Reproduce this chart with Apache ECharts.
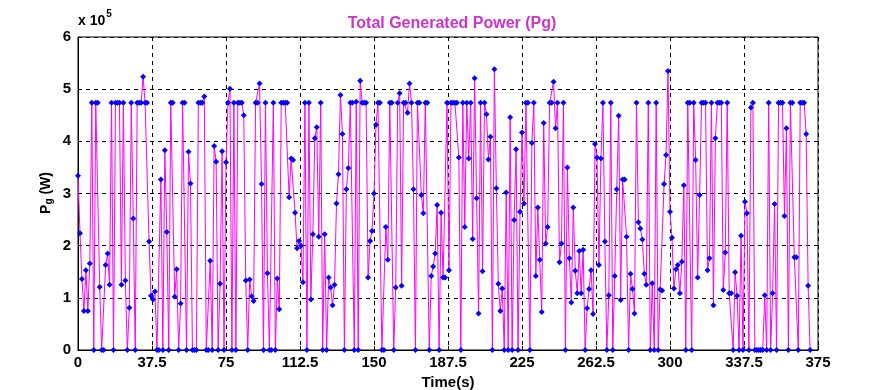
<!DOCTYPE html>
<html>
<head>
<meta charset="utf-8">
<script src="https://cdn.jsdelivr.net/npm/echarts@6/dist/echarts.min.js"></script>
<style>html,body{margin:0;padding:0;background:#fff}#c{width:896px;height:390px}</style>
</head>
<body>
<div id="c"></div>
<script>
// Time axis ticks (s)
const xTicks = [0, 37.5, 75, 112.5, 150, 187.5, 225, 262.5, 300, 337.5, 375];
// Pg values in units of 1e5 W, one per second starting at t = 0
const pgValues = [
3.34,2.24,1.36,0.75,1.53,0.75,1.66,4.74,0,4.74,
4.74,1.21,0,0,1.63,1.85,1.25,4.74,0,4.74,
4.74,4.74,1.25,4.74,1.33,0,0.81,4.74,2.52,0,
4.74,4.74,4.74,5.24,4.74,4.74,2.08,1.04,0.97,1.12,
0,0,3.27,0,3.83,2.26,0,4.74,4.74,1.02,
1.55,0,0.89,4.74,4.74,0,3.8,3.19,0,0,
0,4.74,4.74,4.74,4.86,0,0,1.71,0,3.91,
3.61,0,1.27,3.81,0,3.6,4.74,5.01,0,4.74,
0,4.74,4.74,4.74,4.5,1.33,0,1.35,1.03,0.94,
4.74,4.74,5.11,3.18,0,4.74,1.47,0,0,4.74,
0,1.37,0.78,4.74,4.74,4.74,4.74,2.93,3.67,3.64,
2.63,1.95,2.09,2.0,1.3,4.74,0,4.74,0.97,2.22,
4.06,4.27,2.17,4.74,0,2.22,0,1.39,1.2,0.86,
1.25,2.81,3.37,4.89,4.14,0,3.08,3.49,4.74,4.74,
0,4.76,0,5.16,4.74,4.74,4.74,1.39,2.09,2.28,
3.0,4.32,4.74,4.74,0,0,2.36,1.73,4.74,4.74,
0,1.2,4.74,4.92,1.23,4.74,4.74,4.55,5.11,4.74,
3.08,0,4.74,4.74,2.97,2.62,4.74,4.74,0,1.42,
1.6,1.85,2.78,0,2.63,1.39,1.39,4.74,1.53,4.74,
4.74,4.74,4.74,3.69,0,4.74,2.36,4.74,3.67,4.74,
2.13,5.21,2.91,0.7,4.74,1.51,4.74,4.52,3.65,4.09,
0,5.38,3.1,1.27,0.75,1.18,0,3.02,0,4.46,
0,2.49,3.85,0,2.65,4.17,2.81,4.74,4.74,0,
3.97,4.74,1.42,2.73,1.73,0.73,4.35,2.04,2.36,4.74,
4.74,5.14,4.25,4.74,1.68,2.04,4.74,0,3.5,1.76,
0.91,2.73,1.52,1.09,1.9,1.09,1.92,0,0.8,1.17,
1.53,0.69,3.95,3.69,1.63,3.67,4.74,2.08,0,1.05,
4.74,0,1.42,3.08,4.49,0.96,3.27,3.27,2.17,0,
1.46,1.17,0.7,4.74,2.45,2.33,2.12,1.46,1.25,4.74,
0,1.28,0,4.74,0,1.16,1.14,3.18,3.74,5.35,
2.65,2.15,1.18,1.55,1.63,1.09,1.69,3.16,0,4.74,
4.74,0,4.74,3.64,1.39,2.97,4.74,4.74,4.74,1.53,
1.76,4.74,0.86,4.06,4.74,4.74,4.74,1.15,1.87,4.74,
1.09,1.09,0,1.49,1.04,0,2.19,0,2.84,2.62,
0,4.65,4.74,0,0,0,0,0,1.05,0,
4.74,0,1.09,2.8,0,4.74,4.74,4.74,2.57,4.25,
0,4.74,4.74,1.78,1.78,0,4.74,4.74,4.74,4.14,
1.23,0
];
const seriesData = pgValues.map((v, i) => [i, v]);

const chart = echarts.init(document.getElementById('c'), null, {renderer: 'canvas'});
const fontFam = '"Liberation Sans", Arial, sans-serif';
chart.setOption({
  animation: false,
  backgroundColor: '#fff',
  title: {
    text: 'Total Generated Power (Pg)',
    left: 447, top: 11, textAlign: 'center',
    textStyle: {color: '#cc33cc', fontSize: 16, fontWeight: 'bold', fontFamily: fontFam}
  },
  grid: {left: 78, right: 78, top: 37, bottom: 40, outerBoundsMode: 'none', containLabel: false,
         show: true, borderColor: '#000', borderWidth: 1, backgroundColor: 'transparent'},
  xAxis: {
    type: 'value', min: 0, max: 375, interval: 37.5,
    name: 'Time(s)', nameLocation: 'middle', nameGap: 22,
    nameTextStyle: {color: '#000', fontSize: 15, fontWeight: 'bold', fontFamily: fontFam},
    axisLine: {show: true, lineStyle: {color: '#000', width: 1}},
    axisTick: {show: true, inside: true, length: 4, lineStyle: {color: '#000'}},
    axisLabel: {color: '#000', fontSize: 15, fontWeight: 'bold', fontFamily: fontFam, margin: 5},
    splitLine: {show: true, lineStyle: {color: '#000', type: [4, 4], width: 1}}
  },
  yAxis: {
    type: 'value', min: 0, max: 6, interval: 1,
    axisLine: {show: true, lineStyle: {color: '#000', width: 1}},
    axisTick: {show: true, inside: true, length: 4, lineStyle: {color: '#000'}},
    axisLabel: {color: '#000', fontSize: 15, fontWeight: 'bold', fontFamily: fontFam, margin: 7},
    splitLine: {show: true, lineStyle: {color: '#000', type: [4, 4], width: 1}}
  },
  graphic: [
    {type: 'text', left: 78, top: 9, style: {
      text: '{a|x 10}{b|5}', fill: '#000',
      rich: {a: {fontSize: 14, fontWeight: 'bold', fontFamily: fontFam, fill: '#000', verticalAlign: 'bottom'},
             b: {fontSize: 10, fontWeight: 'bold', fontFamily: fontFam, fill: '#000', padding: [0, 0, 9, 1]}}
    }},
    {type: 'text', x: 46, y: 193, rotation: Math.PI / 2, style: {
      text: '{a|P}{b|g}{a| (W)}', align: 'center', verticalAlign: 'middle',
      rich: {a: {fontSize: 14, fontWeight: 'bold', fontFamily: fontFam, fill: '#000'},
             b: {fontSize: 10, fontWeight: 'bold', fontFamily: fontFam, fill: '#000', padding: [6, 0, 0, 0]}}
    }}
  ],
  series: [{
    type: 'line', data: seriesData,
    lineStyle: {color: '#ff00ff', width: 1},
    itemStyle: {color: '#0000ff'},
    symbol: 'diamond', symbolSize: 6, showSymbol: true,
    emphasis: {disabled: true}
  }]
});
</script>
</body>
</html>
